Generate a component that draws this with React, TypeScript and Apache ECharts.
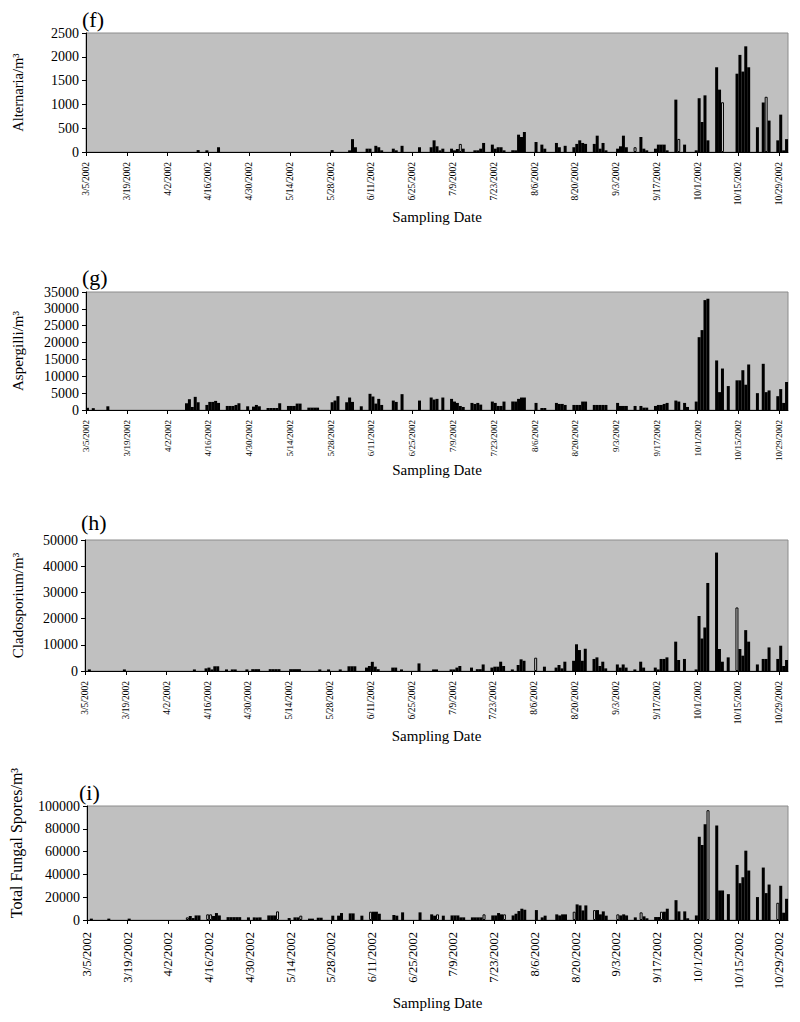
import React, { useEffect, useRef } from "react";
import * as echarts from "echarts";

// ---------- tick labels (x axis, every 14 days) ----------
const tickLabels: string[] = [
  "3/5/2002", "3/19/2002", "4/2/2002", "4/16/2002", "4/30/2002", "5/14/2002",
  "5/28/2002", "6/11/2002", "6/25/2002", "7/9/2002", "7/23/2002", "8/6/2002",
  "8/20/2002", "9/3/2002", "9/17/2002", "10/1/2002", "10/15/2002", "10/29/2002",
];

// ---------- (f) Alternaria ----------
const alternariaSolid: [string, number][] = [
  ["4/12", 40], ["4/15", 35], ["4/19", 100], ["5/28", 40], ["6/3", 35], ["6/4", 270], ["6/5", 100],
  ["6/9", 70], ["6/10", 70], ["6/12", 130], ["6/13", 100], ["6/14", 35], ["6/18", 70], ["6/19", 35],
  ["6/21", 130], ["6/27", 100], ["7/1", 100], ["7/2", 245], ["7/3", 120], ["7/4", 35], ["7/5", 70],
  ["7/8", 70], ["7/9", 35], ["7/10", 63], ["7/12", 70], ["7/16", 35], ["7/17", 35], ["7/18", 70],
  ["7/19", 190], ["7/22", 155], ["7/23", 70], ["7/24", 100], ["7/25", 100], ["7/26", 35], ["7/29", 35],
  ["7/30", 35], ["7/31", 364], ["8/1", 315], ["8/2", 420], ["8/6", 210], ["8/8", 155], ["8/9", 70],
  ["8/13", 190], ["8/14", 100], ["8/16", 130], ["8/19", 100], ["8/20", 170], ["8/21", 245], ["8/22", 190],
  ["8/23", 170], ["8/26", 170], ["8/27", 343], ["8/28", 70], ["8/29", 190], ["8/30", 35], ["9/3", 70],
  ["9/4", 120], ["9/5", 343], ["9/6", 100], ["9/11", 315], ["9/12", 70], ["9/13", 35], ["9/16", 70],
  ["9/17", 155], ["9/18", 155], ["9/19", 155], ["9/20", 35], ["9/23", 1100], ["9/26", 155], ["9/30", 35],
  ["10/1", 1130], ["10/2", 630], ["10/3", 1190], ["10/4", 245], ["10/7", 1780], ["10/8", 1310],
  ["10/14", 1645], ["10/15", 2040], ["10/16", 1690], ["10/17", 2220], ["10/18", 1780], ["10/21", 520],
  ["10/23", 1040], ["10/25", 660], ["10/28", 245], ["10/29", 785], ["10/30", 35], ["10/31", 270],
];
const alternariaOpen: [string, number][] = [
  ["7/11", 170], ["9/9", 100], ["9/24", 275], ["10/9", 1045], ["10/24", 1160],
];

// ---------- (g) Aspergilli ----------
const aspergilliSolid: [string, number][] = [
  ["3/5", 650], ["3/7", 550], ["3/12", 1100], ["4/8", 2000], ["4/9", 3200], ["4/10", 900], ["4/11", 3900],
  ["4/12", 2300], ["4/15", 1500], ["4/16", 2400], ["4/17", 2400], ["4/18", 2700], ["4/19", 2100],
  ["4/22", 1200], ["4/23", 1200], ["4/24", 1200], ["4/25", 1500], ["4/26", 2000], ["4/29", 1100],
  ["5/1", 1000], ["5/2", 1500], ["5/3", 1100], ["5/6", 600], ["5/7", 600], ["5/8", 600], ["5/9", 600],
  ["5/10", 2000], ["5/13", 1200], ["5/14", 1200], ["5/15", 1200], ["5/16", 1900], ["5/17", 1900],
  ["5/20", 700], ["5/21", 700], ["5/22", 700], ["5/23", 700], ["5/28", 2300], ["5/29", 2800], ["5/30", 4100],
  ["6/2", 2300], ["6/3", 3700], ["6/4", 2400], ["6/7", 1100], ["6/10", 4800], ["6/11", 4000], ["6/12", 1900],
  ["6/13", 3300], ["6/14", 1500], ["6/18", 2800], ["6/19", 2400], ["6/21", 4700], ["6/27", 2800],
  ["7/1", 3700], ["7/2", 3100], ["7/3", 3300], ["7/5", 3700], ["7/8", 3300], ["7/9", 2500], ["7/10", 2100],
  ["7/11", 1200], ["7/12", 900], ["7/15", 2100], ["7/16", 1800], ["7/17", 2100], ["7/18", 1600],
  ["7/22", 2500], ["7/23", 2100], ["7/24", 1200], ["7/25", 1200], ["7/26", 2500], ["7/29", 2500],
  ["7/30", 2500], ["7/31", 3300], ["8/1", 3700], ["8/2", 3700], ["8/6", 2100], ["8/8", 600], ["8/9", 600],
  ["8/13", 2100], ["8/14", 1800], ["8/15", 1800], ["8/16", 1500], ["8/19", 1500], ["8/20", 1500],
  ["8/21", 1500], ["8/22", 2500], ["8/23", 2500], ["8/26", 1500], ["8/27", 1500], ["8/28", 1500],
  ["8/29", 1500], ["8/30", 1500], ["9/3", 2100], ["9/4", 1200], ["9/5", 1200], ["9/6", 1200], ["9/9", 1200],
  ["9/11", 1200], ["9/12", 700], ["9/13", 700], ["9/16", 1200], ["9/17", 1500], ["9/18", 1500],
  ["9/19", 1800], ["9/20", 2100], ["9/23", 2800], ["9/24", 2500], ["9/26", 2100], ["9/27", 900],
  ["9/30", 2500], ["10/1", 21600], ["10/2", 23700], ["10/3", 32600], ["10/4", 33000], ["10/7", 14700],
  ["10/8", 5300], ["10/9", 12300], ["10/11", 7100], ["10/14", 8800], ["10/15", 8800], ["10/16", 11800],
  ["10/17", 7500], ["10/18", 13500], ["10/21", 5000], ["10/23", 13700], ["10/24", 5300], ["10/25", 5800],
  ["10/28", 4100], ["10/29", 6200], ["10/30", 2100], ["10/31", 8300],
];
const aspergilliOpen: [string, number][] = [];

// ---------- (h) Cladosporium ----------
const cladosporiumSolid: [string, number][] = [
  ["3/6", 600], ["3/18", 600], ["4/11", 600], ["4/15", 1000], ["4/16", 1300], ["4/17", 600], ["4/18", 1800],
  ["4/19", 1800], ["4/22", 600], ["4/24", 600], ["4/25", 600], ["4/29", 600], ["5/1", 700], ["5/2", 700],
  ["5/3", 700], ["5/7", 700], ["5/8", 700], ["5/9", 700], ["5/10", 700], ["5/14", 700], ["5/15", 700],
  ["5/16", 700], ["5/17", 700], ["5/24", 600], ["5/27", 600], ["5/31", 600], ["6/3", 1800], ["6/4", 1800],
  ["6/5", 1800], ["6/9", 1300], ["6/10", 1900], ["6/11", 3500], ["6/12", 1650], ["6/13", 700], ["6/18", 1300],
  ["6/19", 1300], ["6/21", 600], ["6/27", 2900], ["7/2", 600], ["7/3", 600], ["7/8", 600], ["7/9", 600],
  ["7/10", 1300], ["7/11", 1900], ["7/15", 1300], ["7/17", 700], ["7/18", 700], ["7/19", 2500],
  ["7/22", 1300], ["7/23", 1650], ["7/24", 1650], ["7/25", 3550], ["7/26", 1900], ["7/29", 600],
  ["7/31", 2300], ["8/1", 4450], ["8/2", 3900], ["8/9", 1650], ["8/13", 1300], ["8/14", 2300], ["8/15", 1000],
  ["8/16", 3550], ["8/19", 3900], ["8/20", 10200], ["8/21", 8000], ["8/22", 3900], ["8/23", 8500],
  ["8/26", 4600], ["8/27", 5200], ["8/28", 1900], ["8/29", 3550], ["8/30", 1000], ["9/3", 2500],
  ["9/4", 1300], ["9/5", 2500], ["9/6", 1300], ["9/9", 600], ["9/11", 3550], ["9/12", 1300], ["9/16", 1300],
  ["9/17", 600], ["9/18", 4600], ["9/19", 4600], ["9/20", 5200], ["9/23", 11200], ["9/24", 4200],
  ["9/26", 4600], ["9/30", 600], ["10/1", 21000], ["10/2", 12400], ["10/3", 16600], ["10/4", 33600],
  ["10/7", 45200], ["10/8", 8400], ["10/9", 3550], ["10/11", 5200], ["10/15", 8400], ["10/16", 5850],
  ["10/17", 15600], ["10/18", 11200], ["10/21", 2500], ["10/23", 4600], ["10/24", 4600], ["10/25", 9000],
  ["10/28", 4600], ["10/29", 9650], ["10/30", 1900], ["10/31", 4200],
];
const cladosporiumOpen: [string, number][] = [["8/6", 5080], ["10/14", 24250]];

// ---------- (i) Total fungal spores ----------
const totalSolid: [string, number][] = [
  ["3/6", 1200], ["3/12", 1200], ["3/19", 1200], ["4/9", 3500], ["4/10", 1700], ["4/11", 4000], ["4/12", 4000],
  ["4/17", 3500], ["4/18", 6100], ["4/19", 4000], ["4/22", 2500], ["4/23", 2500], ["4/24", 2500],
  ["4/25", 2500], ["4/26", 2500], ["4/29", 2300], ["5/1", 2300], ["5/2", 2300], ["5/3", 2300], ["5/6", 4000],
  ["5/7", 4000], ["5/8", 4000], ["5/13", 1700], ["5/15", 2300], ["5/16", 2300], ["5/20", 1200], ["5/21", 1200],
  ["5/23", 2000], ["5/24", 2000], ["5/28", 3800], ["5/30", 3800], ["5/31", 6100], ["6/3", 5800], ["6/4", 5800],
  ["6/7", 3800], ["6/11", 7270], ["6/12", 7270], ["6/13", 5500], ["6/18", 4400], ["6/19", 3800], ["6/21", 6700],
  ["6/27", 6700], ["7/1", 4950], ["7/2", 3800], ["7/5", 3800], ["7/8", 4000], ["7/9", 4000], ["7/10", 4000],
  ["7/11", 2300], ["7/12", 2300], ["7/15", 2300], ["7/16", 2300], ["7/17", 2300], ["7/18", 2300],
  ["7/22", 4000], ["7/23", 4000], ["7/24", 6100], ["7/25", 4950], ["7/29", 4000], ["7/30", 5500],
  ["7/31", 7850], ["8/1", 9900], ["8/2", 9000], ["8/6", 8700], ["8/8", 2300], ["8/9", 3800], ["8/13", 4950],
  ["8/14", 4000], ["8/15", 4950], ["8/16", 4950], ["8/20", 13700], ["8/21", 12800], ["8/22", 8400],
  ["8/23", 12800], ["8/27", 8700], ["8/28", 4950], ["8/29", 7560], ["8/30", 3800], ["9/4", 4000],
  ["9/5", 4950], ["9/6", 4000], ["9/9", 2300], ["9/12", 3200], ["9/13", 1500], ["9/16", 2600], ["9/17", 2600],
  ["9/19", 7270], ["9/20", 9900], ["9/23", 17400], ["9/24", 7560], ["9/26", 7560], ["9/27", 1500],
  ["9/30", 4000], ["10/1", 73000], ["10/2", 65800], ["10/3", 84000], ["10/7", 82900], ["10/8", 25900],
  ["10/9", 25900], ["10/11", 22700], ["10/14", 48300], ["10/15", 32300], ["10/16", 37500], ["10/17", 60800],
  ["10/18", 43400], ["10/21", 20100], ["10/23", 46000], ["10/24", 23600], ["10/25", 31100], ["10/29", 30000],
  ["10/30", 6400], ["10/31", 18600],
];
const totalOpen: [string, number][] = [
  ["4/8", 2300], ["4/15", 4950], ["4/16", 4950], ["5/9", 7560], ["5/17", 3800], ["6/10", 7270], ["7/3", 4950],
  ["7/19", 4950], ["7/26", 4950], ["8/19", 7270], ["8/26", 8700], ["9/3", 4950], ["9/11", 6700],
  ["9/18", 7270], ["10/4", 96300], ["10/28", 15100],
];

// ---------- helpers ----------
const monthOffset: Record<number, number> = { 3: -5, 4: 26, 5: 56, 6: 87, 7: 117, 8: 148, 9: 179, 10: 209, 11: 240 };
function dayIndex(s: string): number {
  const [m, d] = s.split("/").map(Number);
  return monthOffset[m] + d;
}
const X_MAX = dayIndex("11/1");
const tickValues = tickLabels.map((t) => dayIndex(t));
const SERIF = "'Liberation Serif', 'Times New Roman', serif";

function buildData(solid: [string, number][], open: [string, number][]) {
  const items: any[] = [];
  solid.forEach(([d, v]) => items.push({ value: [dayIndex(d) + 0.5, v] }));
  open.forEach(([d, v]) =>
    items.push({
      value: [dayIndex(d) + 0.5, v],
      itemStyle: { color: "#cdcdcd", borderColor: "#000", borderWidth: 1 },
    })
  );
  return items;
}

type Panel = {
  letter: string;
  yName: string;
  yMax: number;
  yStep: number;
  solid: [string, number][];
  open: [string, number][];
  grid: { left: number; top: number; width: number; height: number };
  letterTop: number;
  xFont: number;
  xMargin: number;
  xNameGap: number;
  yNameFont: number;
  yNameGap: number;
  yNamePad: number;
};

const panels: Panel[] = [
  {
    letter: "(f)", yName: "Alternaria/m³", yMax: 2500, yStep: 500,
    solid: alternariaSolid, open: alternariaOpen,
    grid: { left: 86, top: 33, width: 702, height: 119 }, letterTop: 8,
    xFont: 9.5, xMargin: 10, xNameGap: 57, yNameFont: 14.5, yNameGap: 61, yNamePad: 0,
  },
  {
    letter: "(g)", yName: "Aspergilli/m³", yMax: 35000, yStep: 5000,
    solid: aspergilliSolid, open: aspergilliOpen,
    grid: { left: 86, top: 292, width: 702, height: 118 }, letterTop: 266,
    xFont: 9, xMargin: 10, xNameGap: 52, yNameFont: 15, yNameGap: 61, yNamePad: 0,
  },
  {
    letter: "(h)", yName: "Cladosporium/m³", yMax: 50000, yStep: 10000,
    solid: cladosporiumSolid, open: cladosporiumOpen,
    grid: { left: 85, top: 540, width: 703, height: 131 }, letterTop: 511,
    xFont: 9.5, xMargin: 10, xNameGap: 57, yNameFont: 15, yNameGap: 60, yNamePad: 0,
  },
  {
    letter: "(i)", yName: "Total Fungal Spores/m³", yMax: 100000, yStep: 20000,
    solid: totalSolid, open: totalOpen,
    grid: { left: 83, top: 806, width: 705, height: 114 }, letterTop: 781,
    xFont: 12.5, xMargin: 12, xNameGap: 75, yNameFont: 16, yNameGap: 63, yNamePad: 40,
  },
];

export default function App() {
  const ref = useRef<HTMLDivElement>(null);

  useEffect(() => {
    if (!ref.current) return;
    const chart = echarts.init(ref.current, undefined, { renderer: "svg" });

    const grids = panels.map((p) => ({
      ...p.grid,
      show: true,
      backgroundColor: "#c0c0c0",
      borderColor: "#8c8c8c",
      borderWidth: 1,
    }));

    const xAxes = panels.map((p, i) => ({
      type: "value",
      gridIndex: i,
      min: 0,
      max: X_MAX,
      splitLine: { show: false },
      axisLine: { show: true, onZero: false, lineStyle: { color: "#000", width: 1 } },
      axisTick: { show: true, length: 4, customValues: tickValues, lineStyle: { color: "#000" } },
      axisLabel: {
        customValues: tickValues,
        rotate: 90,
        margin: p.xMargin,
        fontSize: p.xFont,
        fontFamily: SERIF,
        color: "#000",
        formatter: (v: number) => {
          const k = tickValues.indexOf(Math.round(v));
          return k >= 0 ? tickLabels[k] : "";
        },
      },
      name: "Sampling Date",
      nameLocation: "middle",
      nameGap: p.xNameGap,
      nameMoveOverlap: false,
      nameTextStyle: { fontSize: 15, fontFamily: SERIF, color: "#000" },
    }));

    const yAxes = panels.map((p, i) => ({
      type: "value",
      gridIndex: i,
      min: 0,
      max: p.yMax,
      interval: p.yStep,
      splitLine: { show: false },
      axisLine: { show: true, lineStyle: { color: "#000", width: 1 } },
      axisTick: { show: true, length: 4, lineStyle: { color: "#000" } },
      axisLabel: {
        fontSize: 14,
        fontFamily: SERIF,
        color: "#000",
        margin: 7,
        formatter: (v: number) => String(v),
      },
      name: p.yName,
      nameLocation: "middle",
      nameGap: p.yNameGap,
      nameMoveOverlap: false,
      nameTextStyle: {
        fontSize: p.yNameFont,
        fontFamily: SERIF,
        color: "#000",
        padding: [0, 0, 0, p.yNamePad],
      },
    }));

    const series = panels.map((p, i) => ({
      type: "bar",
      xAxisIndex: i,
      yAxisIndex: i,
      barWidth: 3,
      itemStyle: { color: "#000" },
      data: buildData(p.solid, p.open),
    }));

    const graphic = panels.map((p) => ({
      type: "text",
      left: p.grid.left - 4,
      top: p.letterTop,
      style: { text: p.letter, font: `22px ${SERIF}`, fill: "#000" },
    }));

    chart.setOption({
      animation: false,
      backgroundColor: "#fff",
      grid: grids,
      xAxis: xAxes,
      yAxis: yAxes,
      series,
      graphic,
    });

    return () => chart.dispose();
  }, []);

  return (
    <div
      ref={ref}
      style={{ position: "absolute", left: 0, top: 0, width: 800, height: 1022 }}
    />
  );
}
